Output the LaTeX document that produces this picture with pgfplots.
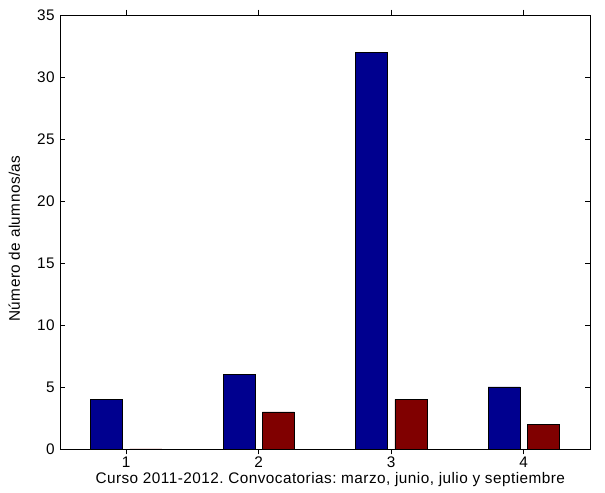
\documentclass[border=0pt]{standalone}
\usepackage{pgfplots}
\pgfplotsset{compat=1.18}
\usepackage{fontspec}
\setmainfont{Liberation Sans}[LetterSpace=3]
\definecolor{mblue}{rgb}{0,0,0.5625}
\definecolor{mred}{rgb}{0.5,0,0}
\begin{document}
\frenchspacing
\fontsize{11.5}{13}\selectfont
\begin{tikzpicture}
\path (0pt,0pt) rectangle (453.75pt,366.75pt);
\begin{axis}[
  at={(45pt,30pt)}, anchor=south west,
  scale only axis,
  width=397.5pt, height=325.5pt,
  xmin=0.5, xmax=4.5, ymin=0, ymax=35,
  xtick={1,2,3,4},
  ytick={0,5,...,35},
  tick align=inside,
  major tick length=4pt,
  tick style={black, line width=0.4pt},
  axis line style={line width=0.5pt},
  /pgf/number format/assume math mode=true,
  ticklabel style={font=\fontsize{11.5}{13}\selectfont},
  label style={font=\fontsize{11.5}{13}\selectfont},
  xlabel={Curso 2011-2012. Convocatorias: marzo, junio, julio y septiembre},
  ylabel={Número de alumnos/as},
  xlabel style={at={(axis description cs:0.51,-0.071)}, anchor=center},
  ylabel style={at={(axis description cs:-0.086,0.485)}, anchor=center},
  xticklabel style={yshift=2pt},
  ybar, bar width=0.24,
]
\addplot[fill=mblue, draw=black, line width=0.4pt, bar shift=-0.148] coordinates {(1,4) (2,6) (3,32) (4,5)};
\addplot[fill=mred, draw=black, line width=0.4pt, bar shift=0.148] coordinates {(1,0) (2,3) (3,4) (4,2)};
\end{axis}
\end{tikzpicture}
\end{document}
